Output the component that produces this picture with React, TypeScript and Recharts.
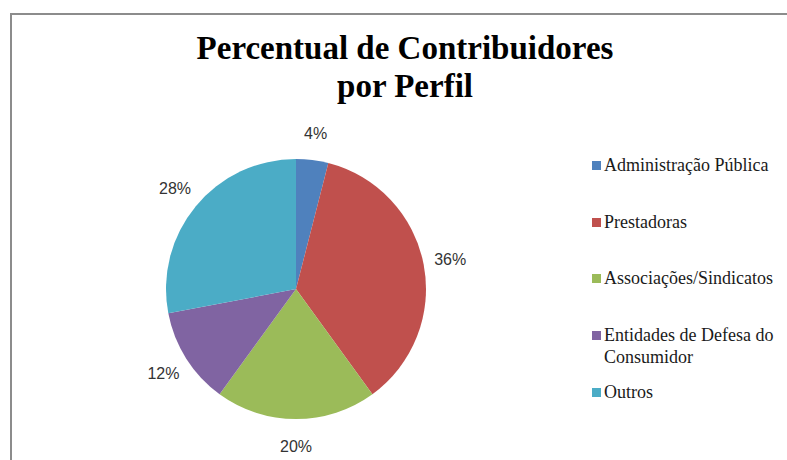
import { Cell, Legend, Pie, PieChart } from 'recharts';

const titulo = ['Percentual de Contribuidores', 'por Perfil'];
const perfis = [
  'Administração Pública',
  'Prestadoras',
  'Associações/Sindicatos',
  'Entidades de Defesa do Consumidor',
  'Outros',
];
const percentuais = [4, 36, 20, 12, 28];
const cores = ['#4F81BD', '#C0504D', '#9BBB59', '#8064A2', '#4BACC6'];

const data = perfis.map((nome, i) => ({ nome, valor: percentuais[i] }));

const RADIAN = Math.PI / 180;

// rótulo fora da fatia, centrado no ângulo médio
const renderLabel = ({ cx, cy, midAngle, outerRadius, value }: any) => {
  const r = outerRadius + 27;
  const x = cx + r * Math.cos(-midAngle * RADIAN);
  const y = cy + r * Math.sin(-midAngle * RADIAN);
  return (
    <text
      x={x}
      y={y}
      textAnchor="middle"
      dominantBaseline="central"
      fill="#333"
      fontFamily="'Liberation Sans', sans-serif"
      fontSize={16}
    >
      {value}%
    </text>
  );
};

// legenda na ordem original dos dados
const renderLegend = () => (
  <div style={{ fontFamily: "'Liberation Serif', serif", fontSize: 18, color: '#1a1a1a' }}>
    {perfis.map((nome, i) => (
      <div key={nome} style={{ display: 'flex', alignItems: 'flex-start', height: 56.7 }}>
        <span
          style={{
            display: 'inline-block',
            width: 9,
            height: 9,
            marginTop: 7,
            marginRight: 3,
            background: cores[i],
            flexShrink: 0,
          }}
        />
        <span style={{ width: 182, lineHeight: '22px' }}>{nome}</span>
      </div>
    ))}
  </div>
);

export default function App() {
  return (
    <div style={{ position: 'absolute', left: 0, top: 0, width: 787, height: 460, background: '#fff' }}>
      <div
        style={{
          position: 'absolute',
          left: 10,
          top: 13,
          right: 0,
          bottom: 0,
          borderLeft: '2px solid #8c8c8c',
          borderTop: '2px solid #8c8c8c',
        }}
      />
      <div
        style={{
          position: 'absolute',
          left: 180,
          width: 450,
          top: 29,
          textAlign: 'center',
          fontFamily: "'Liberation Serif', serif",
          fontWeight: 'bold',
          fontSize: 33,
          lineHeight: '38px',
          color: '#000',
        }}
      >
        {titulo.map((t) => (
          <div key={t}>{t}</div>
        ))}
      </div>
      <PieChart
        width={787}
        height={460}
        margin={{ top: 0, right: 0, bottom: 0, left: 0 }}
        style={{ position: 'absolute', left: 0, top: 0 }}
      >
        <Pie
          data={data}
          dataKey="valor"
          nameKey="nome"
          cx={296}
          cy={289}
          outerRadius={130}
          startAngle={90}
          endAngle={-270}
          stroke="none"
          label={renderLabel}
          labelLine={false}
          isAnimationActive={false}
        >
          {data.map((d, i) => (
            <Cell key={d.nome} fill={cores[i]} />
          ))}
        </Pie>
        <Legend
          layout="vertical"
          content={renderLegend}
          wrapperStyle={{ position: 'absolute', left: 592, top: 154, width: 195 }}
        />
      </PieChart>
    </div>
  );
}
